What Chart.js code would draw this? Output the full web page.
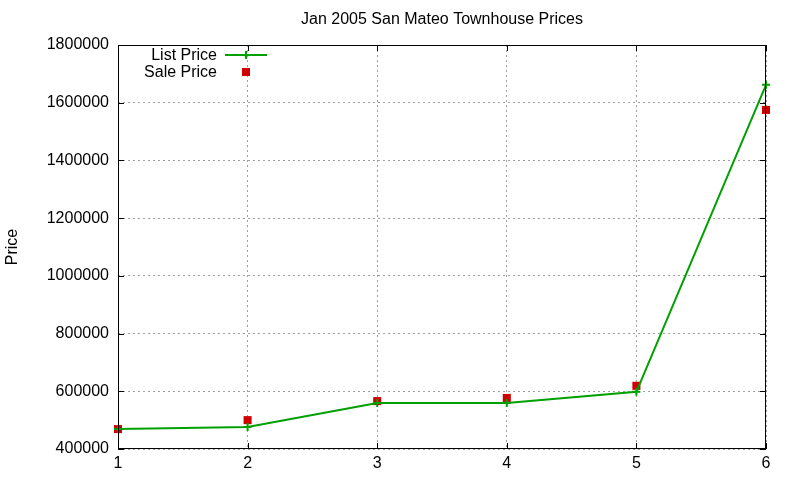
<!DOCTYPE html>
<html>
<head>
<meta charset="utf-8">
<script src="https://cdn.jsdelivr.net/npm/chart.js@4/dist/chart.umd.min.js"></script>
<style>
  html, body { margin: 0; padding: 0; background: #fff; }
  #wrap { width: 800px; height: 480px; }
</style>
</head>
<body>
<div id="wrap"><canvas id="c" width="800" height="480"></canvas></div>
<script>
const TITLE = "Jan 2005 San Mateo Townhouse Prices"
const houses = [1, 2, 3, 4, 5, 6]
const listPrice = [469000, 476000, 559000, 559000, 598000, 1662000]
const salePrice = [469000, 500000, 566000, 577000, 619000, 1575000]

const GREEN = "#00a000"
const RED = "#d00000"
const FONT = "'Liberation Sans', Arial, sans-serif"

// frame, inward ticks, title and legend in gnuplot style
const gnuplotFrame = {
  id: "gnuplotFrame",
  afterDatasetsDraw(chart) {
    const { ctx, chartArea: a, scales } = chart
    ctx.save()
    ctx.strokeStyle = "#000"
    ctx.lineWidth = 1
    ctx.strokeRect(a.left + 0.5, a.top + 0.5, a.right - a.left - 1, a.bottom - a.top - 1)
    const t = 6
    ctx.beginPath()
    scales.y.ticks.forEach(tk => {
      const y = Math.round(scales.y.getPixelForValue(tk.value)) + 0.5
      ctx.moveTo(a.left, y); ctx.lineTo(a.left + t, y)
      ctx.moveTo(a.right, y); ctx.lineTo(a.right - t, y)
    })
    scales.x.ticks.forEach(tk => {
      const x = Math.round(scales.x.getPixelForValue(tk.value)) + 0.5
      ctx.moveTo(x, a.bottom); ctx.lineTo(x, a.bottom - t)
      ctx.moveTo(x, a.top); ctx.lineTo(x, a.top + t)
    })
    ctx.stroke()

    ctx.fillStyle = "#000"
    ctx.font = "16px " + FONT
    ctx.textAlign = "center"
    ctx.textBaseline = "middle"
    ctx.fillText(TITLE, (a.left + a.right) / 2, 20)

    // legend
    ctx.textAlign = "right"
    ctx.fillText("List Price", 217, 56)
    ctx.fillText("Sale Price", 217, 73)
    ctx.strokeStyle = GREEN
    ctx.lineWidth = 2
    ctx.beginPath()
    ctx.moveTo(225, 55); ctx.lineTo(267, 55)
    ctx.moveTo(246, 51); ctx.lineTo(246, 59)
    ctx.stroke()
    ctx.fillStyle = RED
    ctx.fillRect(242, 68, 8, 8)
    ctx.restore()
  }
}

new Chart(document.getElementById("c"), {
  type: "line",
  data: {
    labels: houses,
    datasets: [
      {
        label: "List Price",
        data: houses.map((h, i) => ({ x: h, y: listPrice[i] })),
        borderColor: GREEN,
        backgroundColor: GREEN,
        borderWidth: 2,
        pointStyle: "cross",
        pointRadius: 4,
        pointBorderWidth: 2,
        tension: 0,
        clip: false
      },
      {
        label: "Sale Price",
        data: houses.map((h, i) => ({ x: h, y: salePrice[i] })),
        showLine: false,
        borderColor: RED,
        backgroundColor: RED,
        pointStyle: "rect",
        pointRadius: 5.7,
        pointBorderWidth: 0,
        clip: false
      }
    ]
  },
  options: {
    responsive: false,
    animation: false,
    layout: { padding: { left: 0, right: 34, top: 45, bottom: 0 } },
    plugins: {
      legend: { display: false },
      title: { display: false },
      tooltip: { enabled: false }
    },
    scales: {
      x: {
        type: "linear",
        min: 1,
        max: 6,
        afterFit: s => { s.height = 31 },
        ticks: { stepSize: 1, color: "#000", font: { size: 16, family: FONT }, padding: 5 },
        grid: { color: "#a0a0a0", lineWidth: 1, drawTicks: false },
        border: { display: false, dash: [2, 3] }
      },
      y: {
        min: 400000,
        max: 1800000,
        afterFit: s => { s.width = 118 },
        title: { display: true, text: "Price", color: "#000", font: { size: 16, family: FONT }, padding: { top: 3, bottom: 0 } },
        ticks: { stepSize: 200000, color: "#000", font: { size: 16, family: FONT }, padding: 9, callback: v => String(v) },
        grid: { color: "#a0a0a0", lineWidth: 1, drawTicks: false },
        border: { display: false, dash: [2, 3] }
      }
    }
  },
  plugins: [gnuplotFrame]
})
</script>
</body>
</html>
